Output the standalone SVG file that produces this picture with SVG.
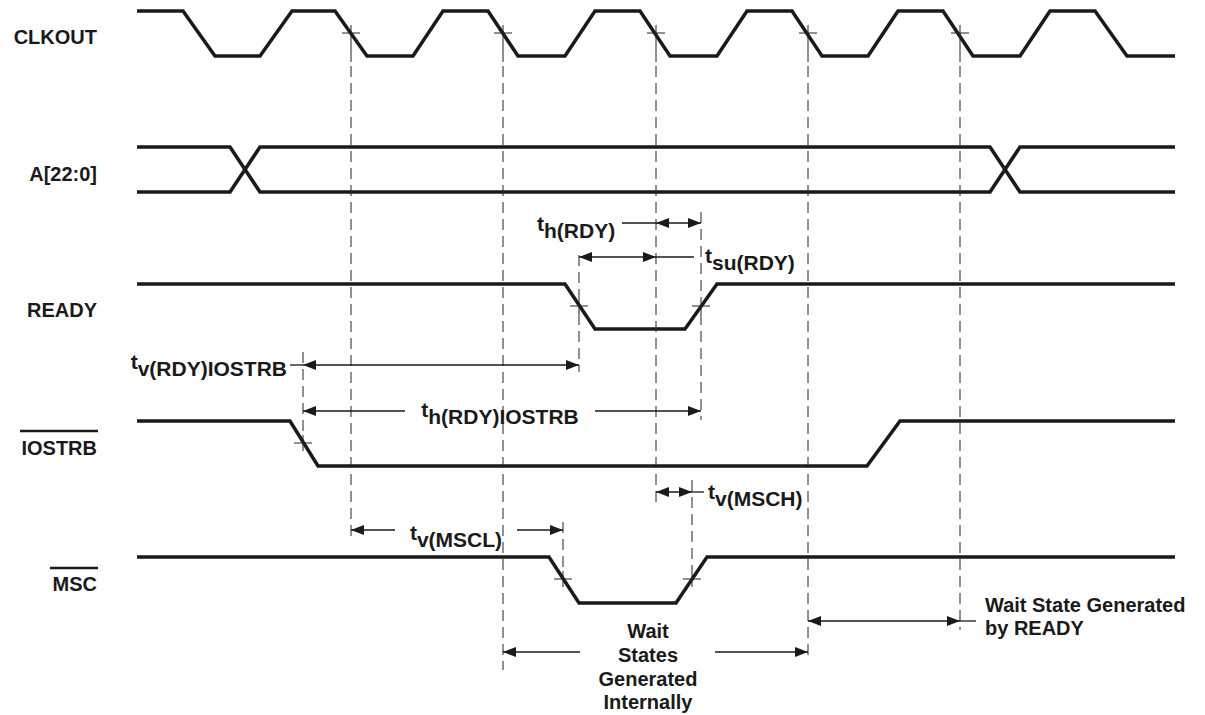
<svg xmlns="http://www.w3.org/2000/svg" width="1205" height="715" viewBox="0 0 1205 715">
<style>
.sig{fill:none;stroke:#1a1a1a;stroke-width:3.5;stroke-linejoin:miter}
.dash{fill:none;stroke:#222;stroke-width:1;stroke-dasharray:11 6}
.tick{fill:none;stroke:#222;stroke-width:1}
.arr{fill:none;stroke:#1a1a1a;stroke-width:1.3}
.lbl{font-family:"Liberation Sans",Arial,sans-serif;font-weight:bold;font-size:20px;fill:#1a1a1a}
.tl{font-family:"Liberation Sans",Arial,sans-serif;font-weight:bold;font-size:21px;fill:#1a1a1a}
.over{stroke:#1a1a1a;stroke-width:2.5}
</style>
<defs>
<marker id="ah" markerWidth="14" markerHeight="10" refX="13" refY="5" orient="auto-start-reverse" markerUnits="userSpaceOnUse"><path d="M0,0 L13,5 L0,10 z" fill="#1a1a1a"/></marker>
</defs>

<g id="labels">
<text class="lbl" x="97" y="44" text-anchor="end">CLKOUT</text>
<text class="lbl" x="97" y="181" text-anchor="end">A[22:0]</text>
<text class="lbl" x="97" y="317" text-anchor="end">READY</text>
<text class="lbl" x="97" y="455" text-anchor="end">IOSTRB</text>
<line class="over" x1="20" y1="431" x2="98" y2="431"/>
<text class="lbl" x="97" y="591" text-anchor="end">MSC</text>
<line class="over" x1="50" y1="568" x2="98" y2="568"/>
</g>

<g id="CLKOUT">
<path class="sig" d="M137,11 L183,11 L215,56 L260,56 L292,11 L335,11 L367,56 L413,56 L443,11 L488,11 L518,56 L565,56 L595,11 L640,11 L670,56 L717,56 L747,11 L792,11 L822,56 L868,56 L898,11 L943,11 L973,56 L1020,56 L1050,11 L1095,11 L1127,56 L1175,56"/>
</g>
<g id="A">
<path class="sig" d="M137,147 L230,147 L260,192 L990,192 L1020,147 L1175,147"/>
<path class="sig" d="M137,192 L230,192 L260,147 L990,147 L1020,192 L1175,192"/>
</g>
<g id="READY">
<path class="sig" d="M137,284 L565,284 L595,329 L685,329 L717,284 L1175,284"/>
</g>
<g id="IOSTRB">
<path class="sig" d="M137,421 L290,421 L318,466 L867,466 L900,421 L1175,421"/>
</g>
<g id="MSC">
<path class="sig" d="M137,557 L549,557 L579,603 L676,603 L707,557 L1175,557"/>
</g>

<g id="ticks">
<path class="tick" d="M342,33 H360 M351,25 V62"/>
<path class="tick" d="M494,33 H512 M503,25 V62"/>
<path class="tick" d="M647,33 H665 M656,25 V62"/>
<path class="tick" d="M799,33 H817 M808,25 V62"/>
<path class="tick" d="M951,33 H969 M960,25 V62"/>
<path class="tick" d="M570,306 H588 M579,298 V314"/>
<path class="tick" d="M692,306 H710 M701,298 V314"/>
<path class="tick" d="M294,443 H312 M303,435 V451"/>
<path class="tick" d="M554,579 H572 M563,571 V587"/>
<path class="tick" d="M683,579 H701 M692,571 V587"/>
</g>

<g id="guides">
<path class="dash" d="M351,66 V540"/>
<path class="dash" d="M503,66 V670"/>
<path class="dash" d="M656,66 V505"/>
<path class="dash" d="M808,66 V660"/>
<path class="dash" d="M960,66 V630"/>
<path class="dash" d="M303,352 V435"/>
<path class="dash" d="M579,255 V298"/>
<path class="dash" d="M579,314 V372"/>
<path class="dash" d="M701,212 V298"/>
<path class="dash" d="M701,314 V420"/>
<path class="dash" d="M563,522 V571"/>
<path class="dash" d="M692,480 V571"/>
</g>

<g id="connectors">
<path class="arr" d="M622,223 H656"/>
<path class="arr" d="M656,223 H701" marker-start="url(#ah)" marker-end="url(#ah)"/>
<path class="arr" d="M579,257 H656" marker-start="url(#ah)" marker-end="url(#ah)"/>
<path class="arr" d="M656,257 H694"/>
<path class="arr" d="M290,365 H303"/>
<path class="arr" d="M303,365 H579" marker-start="url(#ah)" marker-end="url(#ah)"/>
<path class="arr" d="M405,411 H303" marker-end="url(#ah)"/>
<path class="arr" d="M595,411 H701" marker-end="url(#ah)"/>
<path class="arr" d="M656,492 H692" marker-start="url(#ah)" marker-end="url(#ah)"/>
<path class="arr" d="M692,492 H704"/>
<path class="arr" d="M395,530 H351" marker-end="url(#ah)"/>
<path class="arr" d="M517,530 H563" marker-end="url(#ah)"/>
<path class="arr" d="M580,652 H503" marker-end="url(#ah)"/>
<path class="arr" d="M715,652 H808" marker-end="url(#ah)"/>
<path class="arr" d="M808,621 H960" marker-start="url(#ah)" marker-end="url(#ah)"/>
<path class="arr" d="M960,621 H976"/>
</g>

<g id="timing-labels">
<text class="tl" x="537" y="231">t<tspan dy="7">h(RDY)</tspan></text>
<text class="tl" x="705" y="263">t<tspan dy="7">su(RDY)</tspan></text>
<text class="tl" x="287" y="369" text-anchor="end">t<tspan dy="7">v(RDY)IOSTRB</tspan></text>
<text class="tl" x="500" y="417" text-anchor="middle">t<tspan dy="7">h(RDY)IOSTRB</tspan></text>
<text class="tl" x="708" y="499">t<tspan dy="7">v(MSCH)</tspan></text>
<text class="tl" x="456" y="540" text-anchor="middle">t<tspan dy="7">v(MSCL)</tspan></text>
<text class="lbl" x="648" y="638" text-anchor="middle">Wait</text>
<text class="lbl" x="648" y="662" text-anchor="middle">States</text>
<text class="lbl" x="648" y="686" text-anchor="middle">Generated</text>
<text class="lbl" x="648" y="709" text-anchor="middle">Internally</text>
<text class="lbl" x="985" y="612">Wait State Generated</text>
<text class="lbl" x="985" y="635">by READY</text>
</g>
</svg>
